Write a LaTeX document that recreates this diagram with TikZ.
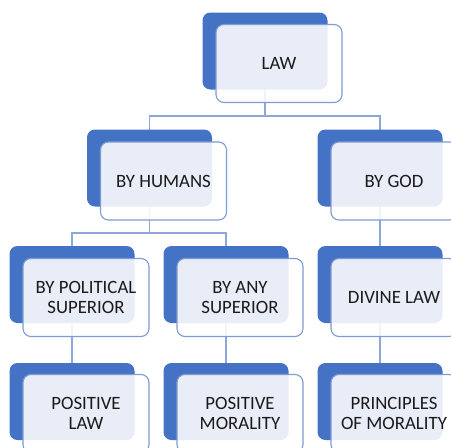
\documentclass[tikz,border=0pt]{standalone}
\usepackage{fontspec}
\setmainfont{Carlito}
\definecolor{backblue}{HTML}{4472C4}
\definecolor{edgeblue}{HTML}{7F9BD3}
\definecolor{linkblue}{HTML}{8EA6D8}
\definecolor{ink}{HTML}{1A1A1A}
\pgfdeclarelayer{paper}
\pgfdeclarelayer{wires}
\pgfsetlayers{paper,wires,main}

\begin{document}
\begin{tikzpicture}[x=1pt,y=-1pt,
  backbox/.style={fill=backblue, draw=none, rounded corners=8pt,
    minimum width=125pt, minimum height=77pt, inner sep=0pt},
  frontbox/.style={fill=white, fill opacity=0.88, text opacity=1,
    draw=edgeblue, line width=1.1pt, rounded corners=8pt,
    minimum width=126pt, minimum height=78pt, inner sep=0pt,
    align=center, text=ink, font=\fontsize{18.8}{20.5}\selectfont},
  link/.style={draw=linkblue, line width=1.1pt}]

\useasboundingbox (0,0) rectangle (451,448);
\begin{pgfonlayer}{paper}
  \fill[white] (0,0) rectangle (451,448);
\end{pgfonlayer}
\clip (0,0) rectangle (451,448);

% back plates
\node[backbox] (law)  at (265,51)    {};
\node[backbox] (hum)  at (149.5,168) {};
\node[backbox] (god)  at (380,168)   {};
\node[backbox] (pol)  at (72,284.5)  {};
\node[backbox] (any)  at (226,284.5) {};
\node[backbox] (div)  at (380,284.5) {};
\node[backbox] (plaw) at (72,401.5)  {};
\node[backbox] (pmor) at (226,401.5) {};
\node[backbox] (prin) at (380,401.5) {};

% front cards with the labels
\node[frontbox] (lawF)  at ([shift={(14,12.5)}]law.center)  {LAW};
\node[frontbox] (humF)  at ([shift={(14,13)}]hum.center)    {BY HUMANS};
\node[frontbox] (godF)  at ([shift={(14,13)}]god.center)    {BY GOD};
\node[frontbox] (polF)  at ([shift={(14,13)}]pol.center)    {BY POLITICAL\\SUPERIOR};
\node[frontbox] (anyF)  at ([shift={(14,13)}]any.center)    {BY ANY\\SUPERIOR};
\node[frontbox] (divF)  at ([shift={(14,13)}]div.center)    {DIVINE LAW};
\node[frontbox] (plawF) at ([shift={(14,12)}]plaw.center)   {POSITIVE\\LAW};
\node[frontbox] (pmorF) at ([shift={(14,12)}]pmor.center)   {POSITIVE\\MORALITY};
\node[frontbox] (prinF) at ([shift={(14,12)}]prin.center)   {PRINCIPLES\\OF MORALITY};

% connectors, behind all cards
\begin{pgfonlayer}{wires}
  \path (law.center) ++(0,65) coordinate (j1);
  \path (hum.center) ++(0,65) coordinate (j2);
  \draw[link] (law.center) -- (j1) -| (hum.center);
  \draw[link] (j1) -| (god.center);
  \draw[link] (hum.center) -- (j2) -| (pol.center);
  \draw[link] (j2) -| (any.center);
  \draw[link] (god.center) -- (div.center);
  \draw[link] (pol.center) -- (plaw.center);
  \draw[link] (any.center) -- (pmor.center);
  \draw[link] (div.center) -- (prin.center);
\end{pgfonlayer}
\end{tikzpicture}
\end{document}
